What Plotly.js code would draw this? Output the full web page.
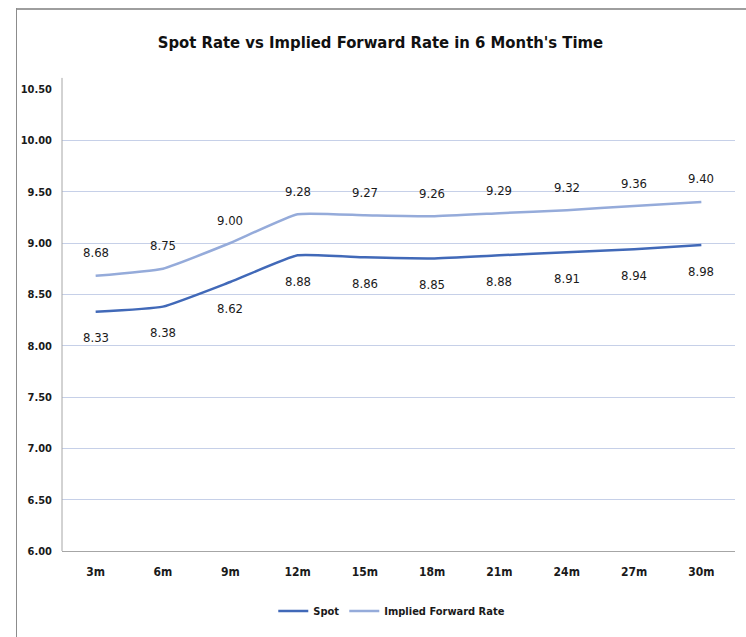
<!DOCTYPE html>
<html>
<head>
<meta charset="utf-8">
<script src="https://cdn.plot.ly/plotly-3.0.1.min.js"></script>
<style>
  html, body { margin: 0; padding: 0; background: #fff; }
  #wrap { position: relative; width: 746px; height: 637px; }
  #chart { position: absolute; left: 0; top: 0; width: 746px; height: 637px; }
  #chart text { font-stretch: condensed !important; }
  #frameTop { position: absolute; left: 16px; top: 8px; width: 730px; height: 2px; background: #9e9e9e; pointer-events: none; }
  #frameLeft { position: absolute; left: 16px; top: 8px; width: 1px; height: 629px; background: #8c8c8c; pointer-events: none; }
</style>
</head>
<body>
<div id="wrap">
  <div id="chart"></div>
  <div id="frameTop"></div>
  <div id="frameLeft"></div>
</div>
<script>
const categories = ["3m", "6m", "9m", "12m", "15m", "18m", "21m", "24m", "27m", "30m"];
const spot = [8.33, 8.38, 8.62, 8.88, 8.86, 8.85, 8.88, 8.91, 8.94, 8.98];
const implied = [8.68, 8.75, 9.00, 9.28, 9.27, 9.26, 9.29, 9.32, 9.36, 9.40];
const yTicks = [6.0, 6.5, 7.0, 7.5, 8.0, 8.5, 9.0, 9.5, 10.0, 10.5];
const yTickLabels = ["6.00", "6.50", "7.00", "7.50", "8.00", "8.50", "9.00", "9.50", "10.00", "10.50"];

const FONT = "'DejaVu Sans Condensed', 'DejaVu Sans', sans-serif";
const spotColor = "#4169b8";
const impliedColor = "#95abda";

const traces = [
  {
    x: categories, y: spot, name: "Spot", type: "scatter", mode: "lines",
    line: { color: spotColor, width: 2.5, shape: "spline", smoothing: 0.4 }
  },
  {
    x: categories, y: implied, name: "Implied Forward Rate", type: "scatter", mode: "lines",
    line: { color: impliedColor, width: 2.5, shape: "spline", smoothing: 0.4 }
  }
];

const annotations = [];
categories.forEach((c, i) => {
  annotations.push({
    x: c, y: implied[i], xref: "x", yref: "y", text: implied[i].toFixed(2),
    showarrow: false, yshift: 23, font: { family: FONT, size: 13, color: "#1a1a1a" }
  });
  annotations.push({
    x: c, y: spot[i], xref: "x", yref: "y", text: spot[i].toFixed(2),
    showarrow: false, yshift: -26, font: { family: FONT, size: 13, color: "#1a1a1a" }
  });
});

const layout = {
  width: 746, height: 637,
  margin: { l: 62, r: 11, t: 89, b: 81 },
  paper_bgcolor: "#ffffff", plot_bgcolor: "#ffffff",
  font: { family: FONT, color: "#1a1a1a" },
  title: {
    text: "<b>Spot Rate vs Implied Forward Rate in 6 Month's Time</b>",
    x: 0.51, xanchor: "center", y: 0.934, yanchor: "middle",
    font: { family: FONT, size: 16.5, color: "#111" }
  },
  xaxis: {
    type: "category", range: [-0.5, 9.5],
    showgrid: false, zeroline: false,
    showline: true, linecolor: "#a6a6a6", linewidth: 1,
    ticks: "", ticklabelstandoff: 10,
    tickfont: { family: FONT, size: 12, color: "#1a1a1a", weight: 600 }
  },
  yaxis: {
    range: [6, 10.5], tickvals: yTicks, ticktext: yTickLabels,
    showgrid: true, gridcolor: "#c6d0e8", gridwidth: 1,
    zeroline: false, showline: false,
    ticks: "", ticklabelstandoff: 9,
    tickfont: { family: FONT, size: 11, color: "#1a1a1a", weight: 600 }
  },
  shapes: [
    { type: "line", xref: "paper", yref: "paper", x0: 0, x1: 0, y0: 0, y1: 1.024,
      line: { color: "#a6a6a6", width: 1 } }
  ],
  annotations: annotations,
  showlegend: true,
  legend: {
    orientation: "h", x: 0.49, xanchor: "center", y: -0.13, yanchor: "middle",
    font: { family: FONT, size: 11, color: "#1a1a1a", weight: 600 },
    bgcolor: "rgba(0,0,0,0)", itemwidth: 30
  }
};

Plotly.newPlot("chart", traces, layout, { displayModeBar: false, staticPlot: true });
</script>
</body>
</html>
